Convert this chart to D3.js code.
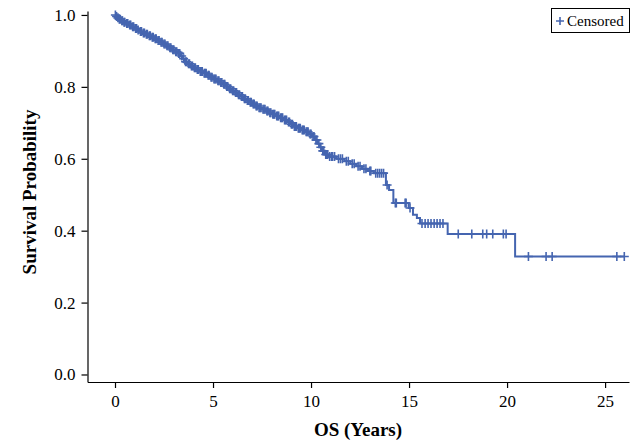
<!DOCTYPE html>
<html><head><meta charset="utf-8">
<script src="https://cdn.jsdelivr.net/npm/d3@7"></script>
<style>
html,body{margin:0;padding:0;background:#fff;}
svg text{font-family:"Liberation Serif","Times New Roman",serif;}
</style></head>
<body><svg id="chart" width="640" height="442"></svg>
<script>
// Kaplan-Meier step data: event times (years) and survival after each event
const eventTimes = [0.05,0.12,0.2,0.3,0.42,0.55,0.7,0.85,1.0,1.12,1.25,1.4,1.55,1.7,1.85,2.0,2.15,2.3,2.45,2.6,2.75,2.9,3.05,3.2,3.35,3.45,3.55,3.7,3.85,4.0,4.15,4.3,4.5,4.7,4.85,5.0,5.2,5.35,5.5,5.65,5.8,5.95,6.1,6.25,6.4,6.55,6.7,6.85,7.0,7.15,7.3,7.5,7.7,7.85,8.0,8.2,8.4,8.6,8.8,8.95,9.1,9.3,9.5,9.7,9.9,10.05,10.2,10.35,10.45,10.55,10.7,10.9,11.3,11.7,12.0,12.3,12.6,12.9,13.2,13.82,13.98,14.2,14.98,15.2,15.4,15.56,16.97,20.41];
const survival = [0.996,0.992,0.988,0.984,0.980,0.976,0.972,0.967,0.962,0.958,0.954,0.950,0.946,0.942,0.938,0.934,0.929,0.924,0.919,0.914,0.909,0.903,0.898,0.893,0.886,0.878,0.870,0.864,0.858,0.853,0.848,0.843,0.838,0.832,0.827,0.822,0.817,0.812,0.807,0.801,0.795,0.789,0.784,0.778,0.773,0.767,0.762,0.757,0.752,0.747,0.742,0.738,0.733,0.728,0.724,0.719,0.714,0.708,0.702,0.696,0.690,0.685,0.680,0.675,0.669,0.662,0.652,0.642,0.632,0.622,0.612,0.606,0.600,0.593,0.586,0.579,0.572,0.566,0.560,0.527,0.513,0.477,0.463,0.444,0.435,0.420,0.391,0.328];
// Censored observation times (years)
const censorTimes = [0.02,0.08,0.15,0.22,0.27,0.35,0.38,0.46,0.5,0.6,0.65,0.75,0.8,0.9,0.95,1.05,1.1,1.18,1.3,1.35,1.45,1.5,1.6,1.65,1.75,1.8,1.9,1.95,2.05,2.1,2.2,2.25,2.35,2.4,2.5,2.55,2.65,2.7,2.8,2.85,2.95,3.0,3.1,3.15,3.25,3.3,3.4,3.5,3.6,3.65,3.75,3.8,3.9,3.95,4.05,4.1,4.2,4.25,4.35,4.4,4.45,4.55,4.6,4.65,4.75,4.8,4.9,4.95,5.05,5.1,5.15,5.25,5.3,5.4,5.45,5.55,5.6,5.7,5.75,5.85,5.9,6.0,6.05,6.15,6.2,6.3,6.35,6.45,6.5,6.6,6.65,6.75,6.8,6.9,6.95,7.05,7.1,7.2,7.25,7.35,7.4,7.45,7.55,7.6,7.65,7.75,7.8,7.9,7.95,8.05,8.1,8.15,8.25,8.3,8.35,8.45,8.5,8.55,8.65,8.7,8.75,8.85,8.9,9.0,9.05,9.15,9.2,9.25,9.35,9.4,9.45,9.55,9.6,9.65,9.75,9.8,9.85,9.95,10.0,10.1,10.15,10.25,10.3,10.4,10.5,10.6,10.65,10.75,10.8,10.85,10.95,11.05,11.1,11.2,11.4,11.5,11.6,11.8,11.9,12.1,12.2,12.4,12.5,12.7,12.8,13.0,13.05,13.3,13.4,13.5,13.6,13.7,13.88,14.3,14.35,14.8,14.85,15.05,15.66,15.82,15.97,16.12,16.28,16.43,16.58,16.73,17.51,18.2,18.76,18.96,19.27,19.81,19.95,21.09,21.99,22.3,25.6,25.98];
const xTicks = [0,5,10,15,20,25];
const yTicks = [0.0,0.2,0.4,0.6,0.8,1.0];
const xLabel = "OS (Years)";
const yLabel = "Survival Probability";
const legendLabel = "Censored";
const color = "#4565b0";

const svg = d3.select("#chart");
const x = d3.scaleLinear().domain([-1.403, 26.22]).range([87.5, 629]);
const y = d3.scaleLinear().domain([-0.0209, 1.011]).range([382, 11]);

// step function lookup
const bis = d3.bisector(d => d).right;
function survAt(t){ const i = bis(eventTimes, t); return i === 0 ? 1 : survival[i-1]; }

const lastT = d3.max(censorTimes);
const pts = [[0,1]].concat(eventTimes.map((t,i)=>[t,survival[i]])).concat([[lastT, survAt(lastT)]]);

const line = d3.line().x(d=>x(d[0])).y(d=>y(d[1])).curve(d3.curveStepAfter);
svg.append("path").datum(pts).attr("d", line).attr("fill","none").attr("stroke",color).attr("stroke-width",2);

const arm = 4.5;
svg.append("g").selectAll("path").data(censorTimes).join("path")
  .attr("transform", d=>`translate(${x(d)},${y(survAt(d))})`)
  .attr("d", `M${-arm},0H${arm}M0,${-arm}V${arm}`)
  .attr("stroke", color).attr("stroke-width",1.6).attr("fill","none");

// axes
const xAxis = svg.append("g").attr("transform","translate(0,382)")
  .call(d3.axisBottom(x).tickValues(xTicks).tickSize(6).tickSizeOuter(0).tickPadding(7).tickFormat(d3.format("d")));
const yAxis = svg.append("g").attr("transform","translate(87.5,0)")
  .call(d3.axisLeft(y).tickValues(yTicks).tickSize(6).tickSizeOuter(0).tickPadding(6).tickFormat(d3.format(".1f")));
[xAxis,yAxis].forEach(a=>{
  a.selectAll("text").attr("font-size",17).attr("fill","#000").style("font-family",'"Liberation Serif",serif');
  a.selectAll("line,path").attr("stroke","#000").attr("stroke-width",1.2);
});

svg.append("text").attr("x",358).attr("y",436).attr("text-anchor","middle")
  .attr("font-size",19).attr("font-weight","bold").text(xLabel);
svg.append("text").attr("transform","translate(36,192) rotate(-90)").attr("text-anchor","middle")
  .attr("font-size",19).attr("font-weight","bold").text(yLabel);

// legend
const lg = svg.append("g");
lg.append("rect").attr("x",551.5).attr("y",8.5).attr("width",78).attr("height",24)
  .attr("fill","#fff").attr("stroke","#000").attr("stroke-width",1);
lg.append("path").attr("d","M556,21H564M560,17V25").attr("stroke",color).attr("stroke-width",1.6);
lg.append("text").attr("x",567).attr("y",25.5).attr("font-size",15).attr("fill","#000").text(legendLabel);
</script></body></html>
